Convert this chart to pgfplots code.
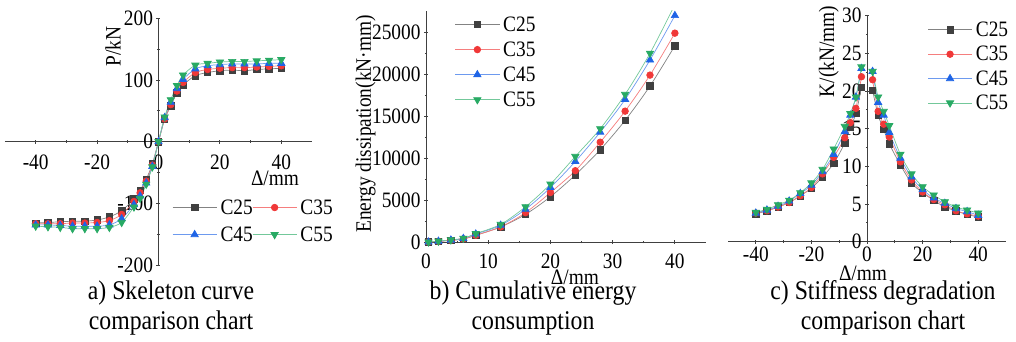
\documentclass[border=0pt]{standalone}
\usepackage{pgfplots}
\pgfplotsset{compat=1.18}
\usepackage{fontspec}
\setmainfont{Liberation Serif}[FakeStretch=0.88]
\definecolor{c25}{RGB}{64,64,64}
\definecolor{c35}{RGB}{240,56,56}
\definecolor{c45}{RGB}{30,100,230}
\definecolor{c55}{RGB}{40,170,100}
\newcommand{\fs}{\fontsize{22}{24}\selectfont}
\pgfplotsset{
  every axis/.append style={
    scale only axis,
    /pgf/number format/assume math mode=true,
    /pgf/number format/set thousands separator={},
    scaled ticks=false,
    tick align=inside,
    major tick length=4pt, minor tick length=2.5pt,
    every tick/.style={draw=black!75, line width=0.8pt},
    tick label style={font=\fs},
    legend style={font=\fs, draw=none, fill=none, inner sep=0pt, outer sep=0pt,
      cells={anchor=west}, nodes={inner xsep=3.5pt, inner ysep=0pt}},
    legend image code/.code={
      \draw[mark repeat=2,mark phase=2,#1] plot coordinates {(0pt,0pt) (22pt,0pt) (44pt,0pt)};
    },
  },
  s25/.style={color=c25!65!white, line width=0.7pt, smooth, mark=square*, mark size=3.2pt, mark options={fill=c25, draw=c25}},
  s35/.style={color=c35!65!white, line width=0.7pt, smooth, mark=*, mark size=3.3pt, mark options={fill=c35, draw=c35}},
  s45/.style={color=c45!65!white, line width=0.7pt, smooth, mark=triangle*, mark size=4.2pt, mark options={fill=c45, draw=c45}},
  s55/.style={color=c55!65!white, line width=0.7pt, smooth, mark=triangle*, mark size=4.2pt, mark options={fill=c55, draw=c55, rotate=180}},
}
\begin{document}
\begin{tikzpicture}
\useasboundingbox (0pt,0pt) rectangle (1016pt,341pt);
% ---------- a) skeleton curve
\begin{axis}[
  at={(5pt,76pt)}, anchor=south west,
  width=307pt, height=246.7pt,
  axis lines=middle,
  axis line style={-, draw=black!75, line width=0.8pt},
  xmin=-50, xmax=50, ymin=-200, ymax=200,
  xtick={-40,-20,0,20,40}, ytick={-200,-100,0,100,200},
  minor x tick num=1, minor y tick num=1,
  hide obscured x ticks=false, hide obscured y ticks=false,
  xticklabel style={yshift=-8pt},
  xlabel={Δ/mm}, ylabel={P/kN},
  every axis x label/.style={at={(axis description cs:0.8795,0.3527)}, anchor=center, font=\fs},
  every axis y label/.style={at={(axis description cs:0.3518,0.885)}, anchor=center, rotate=90, font=\fs},
  legend columns=2,
  legend style={at={(axis description cs:0.545,0.2655)}, anchor=north west, row sep=11pt,
    /tikz/every even column/.append style={column sep=-4pt}},
]
\addplot[s25] coordinates {(-40,-132)(-36,-131)(-32,-130)(-28,-129)(-24,-129)(-20,-127)(-16,-122)(-12,-112)(-8,-93)(-6,-79)(-4,-61)(-2,-36)(0,0)(2,36)(4,58)(6,79)(8,92)(12,107)(16,112)(20,115)(24,116)(28,115)(32,117)(36,118)(40,119)};
\addlegendentry{C25}
\addplot[s35] coordinates {(-40,-133)(-36,-133)(-32,-133)(-28,-132)(-24,-132)(-20,-131)(-16,-128)(-12,-118)(-8,-97)(-6,-83)(-4,-64)(-2,-38)(0,0)(2,37)(4,60)(6,82)(8,96)(12,112)(16,117)(20,119)(24,120)(28,120)(32,121)(36,122)(40,123)};
\addlegendentry{C35}
\addplot[s45] coordinates {(-40,-135)(-36,-135)(-32,-136)(-28,-137)(-24,-137)(-20,-137)(-16,-135)(-12,-125)(-8,-102)(-6,-88)(-4,-67)(-2,-40)(0,0)(2,39)(4,64)(6,86)(8,101)(12,118)(16,123)(20,125)(24,126)(28,126)(32,126)(36,127)(40,127)};
\addlegendentry{C45}
\addplot[s55] coordinates {(-40,-137)(-36,-138)(-32,-139)(-28,-141)(-24,-141)(-20,-141)(-16,-139)(-12,-131)(-8,-106)(-6,-92)(-4,-69)(-2,-41)(0,0)(2,40)(4,68)(6,91)(8,108)(12,124)(16,127)(20,129)(24,130)(28,130)(32,131)(36,132)(40,133)};
\addlegendentry{C55}
\end{axis}
% ---------- b) cumulative energy
\begin{axis}[
  at={(426pt,99pt)}, anchor=south west,
  width=280pt, height=231.5pt,
  axis lines=left,
  axis line style={-, draw=black!75, line width=0.8pt},
  xmin=0, xmax=45, ymin=0, ymax=27600,
  xtick={0,10,20,30,40}, ytick={0,5000,10000,15000,20000,25000},
  minor x tick num=1, minor y tick num=1,
  xticklabel style={yshift=-6pt},
  xlabel={Δ/mm}, ylabel={Energy dissipation(kN·mm)},
  every axis x label/.style={at={(axis description cs:0.532,-0.151)}, anchor=center, font=\fs},
  every axis y label/.style={at={(axis description cs:-0.216,0.5097)}, anchor=center, rotate=90, font=\fs},
  legend style={at={(axis description cs:0.1036,0.974)}, anchor=north west, row sep=9pt},
]
\addplot[s25] coordinates {(0.4,0)(2,80)(4,200)(6,350)(8,800)(12,1800)(16,3300)(20,5400)(24,8000)(28,11000)(32,14500)(36,18600)(40,23400)};
\addlegendentry{C25}
\addplot[s35] coordinates {(0.4,0)(2,80)(4,200)(6,380)(8,800)(12,1800)(16,3500)(20,5900)(24,8500)(28,11900)(32,15600)(36,19900)(40,24900)};
\addlegendentry{C35}
\addplot[s45] coordinates {(0.4,0)(2,90)(4,230)(6,420)(8,950)(12,2000)(16,3900)(20,6500)(24,9600)(28,13100)(32,17000)(36,21700)(40,27000)};
\addlegendentry{C45}
\addplot[s55] coordinates {(0.4,0)(2,100)(4,250)(6,450)(8,1000)(12,2100)(16,4200)(20,6900)(24,10200)(28,13500)(32,17600)(36,22500)(40,28300)};
\addlegendentry{C55}
\end{axis}
% ---------- c) stiffness degradation
\begin{axis}[
  at={(728pt,99.3pt)}, anchor=south west,
  width=278pt, height=226pt,
  axis lines=middle,
  axis line style={-, draw=black!75, line width=0.8pt},
  xmin=-50, xmax=50, ymin=0, ymax=30,
  xtick={-40,-20,0,20,40}, ytick={0,5,10,15,20,25,30},
  minor x tick num=1, minor y tick num=1,
  hide obscured x ticks=false, hide obscured y ticks=false,
  unbounded coords=jump,
  xlabel={Δ/mm}, ylabel={K/(kN/mm)},
  every axis x label/.style={at={(axis description cs:0.4856,-0.1385)}, anchor=center, font=\fs},
  every axis y label/.style={at={(axis description cs:0.363,0.841)}, anchor=center, rotate=90, font=\fs},
  legend style={at={(axis description cs:0.7183,0.973)}, anchor=north west, row sep=8.3pt},
]
\addplot[s25] coordinates {(-40,3.7)(-36,4.1)(-32,4.6)(-28,5.2)(-24,6.1)(-20,7.1)(-16,8.6)(-12,10.4)(-8,13.1)(-6,15.2)(-4,17.0)(-2,20.5)(0,nan)(2,20.1)(4,16.8)(6,14.9)(8,13.0)(12,10.2)(16,7.8)(20,6.5)(24,5.5)(28,4.6)(32,4.1)(36,3.6)(40,3.3)};
\addlegendentry{C25}
\addplot[s35] coordinates {(-40,3.8)(-36,4.1)(-32,4.6)(-28,5.2)(-24,6.1)(-20,7.2)(-16,9.0)(-12,11.2)(-8,13.8)(-6,15.8)(-4,17.7)(-2,21.9)(0,nan)(2,21.5)(4,17.3)(6,15.6)(8,13.9)(12,10.6)(16,8.2)(20,6.6)(24,5.6)(28,4.9)(32,4.1)(36,3.7)(40,3.4)};
\addlegendentry{C35}
\addplot[s45] coordinates {(-40,3.8)(-36,4.2)(-32,4.7)(-28,5.4)(-24,6.4)(-20,7.5)(-16,9.3)(-12,11.6)(-8,14.6)(-6,16.8)(-4,19.2)(-2,23.0)(0,nan)(2,22.6)(4,18.5)(6,16.8)(8,14.5)(12,11.1)(16,8.6)(20,6.9)(24,5.8)(28,5.1)(32,4.4)(36,4.0)(40,3.5)};
\addlegendentry{C45}
\addplot[s55] coordinates {(-40,3.9)(-36,4.3)(-32,4.9)(-28,5.5)(-24,6.5)(-20,7.8)(-16,9.6)(-12,12.3)(-8,15.3)(-6,17.0)(-4,19.2)(-2,23.2)(0,nan)(2,22.6)(4,19.2)(6,17.3)(8,15.4)(12,11.6)(16,9.0)(20,7.3)(24,6.2)(28,5.3)(32,4.6)(36,4.2)(40,3.8)};
\addlegendentry{C55}
\end{axis}
% ---------- captions
\node[align=center, font=\fontsize{27}{30}\selectfont] at (171pt,33pt) {a) Skeleton curve\\comparison chart};
\node[align=center, font=\fontsize{27}{30}\selectfont] at (533pt,33pt) {b) Cumulative energy\\consumption};
\node[align=center, font=\fontsize{27}{30}\selectfont] at (883pt,33pt) {c) Stiffness degradation\\comparison chart};
\end{tikzpicture}
\end{document}
